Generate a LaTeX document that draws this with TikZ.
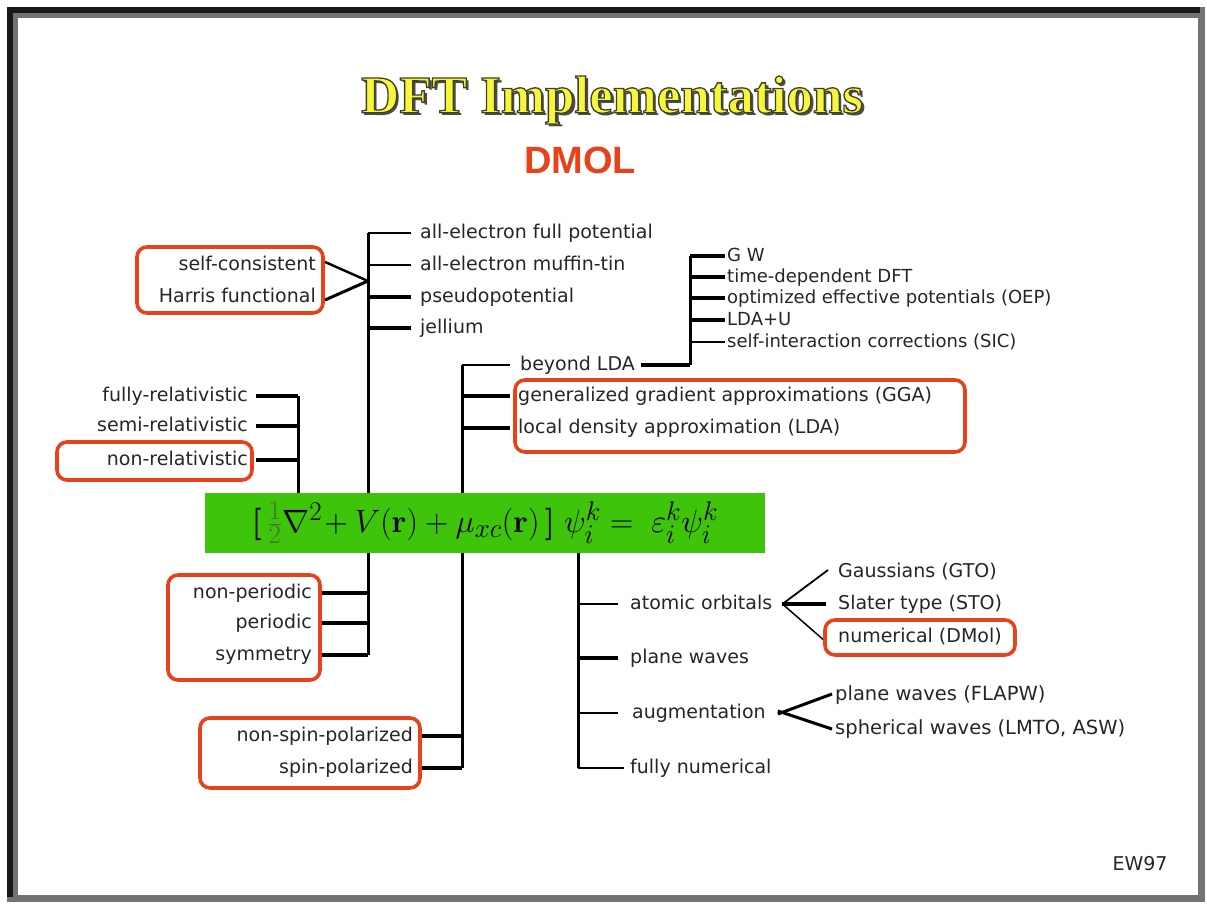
\documentclass[tikz,border=0pt]{standalone}
\usepackage{amsmath}
\usepackage[no-math]{fontspec}
\setmainfont{DejaVu Sans}
\newfontfamily\titlefont{Liberation Serif}
\newfontfamily\dmolfont{Liberation Sans}
\definecolor{boxred}{HTML}{E8421C}
\definecolor{eqgreen}{HTML}{3EC40A}
\definecolor{titleyellow}{HTML}{F6F63C}
\definecolor{txt}{HTML}{262626}
\definecolor{halfgreen}{HTML}{3F7424}
\newcommand{\outlinedtitle}[1]{{\color{titleyellow}\special{pdf:literal direct 0.25 0.25 0.15 RG 1.3 w 2 Tr}#1\special{pdf:literal direct 0 Tr}}}
\begin{document}
\begin{tikzpicture}[x=1pt,y=-1pt,
  lab/.style={inner sep=0pt, text height=14pt, text depth=4pt, font=\fontsize{19}{22}\selectfont, text=txt},
  labs/.style={lab, font=\fontsize{18}{21}\selectfont},
  labl/.style={lab, anchor=west},
  labr/.style={lab, anchor=east},
  labsl/.style={labs, anchor=west},
  ln/.style={line width=1.5pt, draw=black},
  lk/.style={line width=3.5pt, draw=black},
  tr/.style={line width=3pt, draw=black},
  redbox/.style={draw=boxred, line width=3.6pt, rounded corners=10pt},
  ttl/.style={font=\titlefont\bfseries\fontsize{53}{58}\selectfont, inner sep=0pt}
]
\useasboundingbox (0,0) rectangle (1207,904);
\fill[white] (0,0) rectangle (1207,904);
% frame
\fill[black!55] (7,7) rectangle (1205,902);
\fill[black!90] (7,7) rectangle (1200,13);
\fill[black!90] (7,7) rectangle (13,897);
\fill[white] (18,18) rectangle (1198,895);

% title
\node[ttl, text=black!70] (titleshadow) at (615,103) {DFT Implementations};
\node[ttl] (title) at (612,100) {\outlinedtitle{DFT Implementations}};
\node[font=\dmolfont\bfseries\fontsize{38}{42}\selectfont, text=boxred, inner sep=0pt] (dmol) at (580,160) {DMOL};

% equation box
\node[fill=eqgreen, minimum width=560pt, minimum height=60pt, inner sep=0pt,
      font=\fontsize{24.88}{30}\selectfont] (eqbox) at (485,523)
  {\raisebox{1pt}{\scalebox{1.3}{$\boldsymbol{[}\,{\color{halfgreen}\tfrac{1}{2}}\nabla^{2}\!+V(\mathbf{r})+\mu_{xc}(\mathbf{r})\,\boldsymbol{]}\;\psi_i^{k}=\;\varepsilon_i^{k}\psi_i^{k}$}}};

% ---------- top-left group ----------
\coordinate (A) at (368,233);
\draw[tr] (A) -- (A |- eqbox.north);
\node[labl] (afp) at (420,233) {all-electron full potential};
\node[labl] (amt) at (420,265) {all-electron muffin-tin};
\node[labl] (pp)  at (420,297) {pseudopotential};
\node[labl] (jel) at (420,328) {jellium};
\draw[ln] ([xshift=-9pt]afp.west) -- (afp.west -| A);
\draw[ln] ([xshift=-9pt]amt.west) -- (amt.west -| A);
\draw[lk] ([xshift=-9pt]pp.west) -- (pp.west -| A);
\draw[lk] ([xshift=-9pt]jel.west) -- (jel.west -| A);

\node[labr] (sc) at (316,265) {self-consistent};
\node[labr] (hf) at (316,297) {Harris functional};
\coordinate (J) at (368,281);
\draw[line width=2.4pt] ([xshift=9pt,yshift=3pt]sc.east) -- (J);
\draw[line width=3pt] ([xshift=9pt,yshift=-3pt]hf.east) -- (J);
\draw[redbox] (137,247) rectangle (323,313);

% ---------- relativistic ----------
\coordinate (R) at (298,396);
\draw[tr] (R) -- (R |- eqbox.north);
\node[labr] (fr) at (248,396) {fully-relativistic};
\node[labr] (sr) at (248,426) {semi-relativistic};
\node[labr] (nr) at (248,460) {non-relativistic};
\foreach \n in {fr,sr,nr}
  \draw[lk] ([xshift=8pt]\n.east) -- (\n.east -| R);
\draw[redbox] (57,442) rectangle (252,480);

% ---------- xc functional ----------
\coordinate (M) at (462,365);
\draw[tr] (M) -- (M |- eqbox.north);
\node[labl] (bl)  at (520,365) {beyond LDA};
\node[labl] (gga) at (518,396) {generalized gradient approximations (GGA)};
\node[labl] (lda) at (518,428) {local density approximation (LDA)};
\draw[ln] ([xshift=-10pt]bl.west) -- (bl.west -| M);
\draw[lk] ([xshift=-8pt]gga.west) -- (gga.west -| M);
\draw[lk] ([xshift=-8pt]lda.west) -- (lda.west -| M);
\draw[redbox] (515,380) rectangle (965,452);

\coordinate (B) at (690,256);
\draw[lk] ([xshift=6pt]bl.east) -- (bl.east -| B);
\draw[tr] (B) -- (B |- bl.east);
\node[labsl] (gw)  at (727,256) {G W};
\node[labsl] (td)  at (727,277) {time-dependent DFT};
\node[labsl] (oep) at (727,298) {optimized effective potentials (OEP)};
\node[labsl] (ldu) at (727,320) {LDA+U};
\node[labsl] (sic) at (727,342) {self-interaction corrections (SIC)};
\foreach \n in {gw,td,oep,ldu}
  \draw[lk] ([xshift=-2pt]\n.west) -- (\n.west -| B);
\draw[ln] ([xshift=-2pt]sic.west) -- (sic.west -| B);

% ---------- periodicity ----------
\coordinate (P) at (368,655);
\draw[tr] (P |- eqbox.south) -- (P);
\node[labr] (np)  at (312,593) {non-periodic};
\node[labr] (per) at (312,623) {periodic};
\node[labr] (sym) at (312,655) {symmetry};
\foreach \n in {np,per,sym}
  \draw[lk] ([xshift=10pt]\n.east) -- (\n.east -| P);
\draw[redbox] (168,575) rectangle (320,680);

% ---------- spin ----------
\coordinate (S) at (462,768);
\draw[tr] (S |- eqbox.south) -- (S);
\node[labr] (nsp) at (413,736) {non-spin-polarized};
\node[labr] (sp)  at (413,768) {spin-polarized};
\foreach \n in {nsp,sp}
  \draw[lk] ([xshift=7pt]\n.east) -- (\n.east -| S);
\draw[redbox] (200,718) rectangle (420,788);

% ---------- basis ----------
\coordinate (Q) at (578,768);
\draw[tr] (Q |- eqbox.south) -- (Q);
\node[labl] (ao)  at (630,604) {atomic orbitals};
\node[labl] (pw)  at (630,658) {plane waves};
\node[labl] (aug) at (632,713) {augmentation};
\node[labl] (fn)  at (630,768) {fully numerical};
\draw[ln] ([xshift=-12pt]ao.west) -- (ao.west -| Q);
\draw[lk] ([xshift=-12pt]pw.west) -- (pw.west -| Q);
\draw[ln] ([xshift=-14pt]aug.west) -- (aug.west -| Q);
\draw[ln] ([xshift=-6pt]fn.west) -- (fn.west -| Q);

\node[labl] (gto) at (838,572) {Gaussians (GTO)};
\node[labl] (sto) at (838,604) {Slater type (STO)};
\node[labl] (num) at (838,637) {numerical (DMol)};
\coordinate (AO) at ([xshift=10pt]ao.east);
\draw[line width=1.8pt] (AO) -- ([xshift=-10pt,yshift=2pt]gto.west);
\draw[lk] (AO) -- ([xshift=-12pt]sto.west);
\draw[line width=1.5pt] (AO) -- ([xshift=-12pt,yshift=-5pt]num.west);
\draw[redbox] (825,620) rectangle (1015,655);

\node[labl, font=\fontsize{19.5}{22}\selectfont] (pwf) at (835,695) {plane waves (FLAPW)};
\node[labl, font=\fontsize{19.5}{22}\selectfont] (sph) at (835,729) {spherical waves (LMTO, ASW)};
\draw[line width=3pt] ([xshift=12pt,yshift=-1pt]aug.east) -- ([xshift=-3pt,yshift=1pt]pwf.west);
\draw[line width=3pt] ([xshift=12pt,yshift=2pt]aug.east) -- ([xshift=-3pt]sph.west);

\node[lab] (ew) at (1140,865) {EW97};
\end{tikzpicture}
\end{document}
